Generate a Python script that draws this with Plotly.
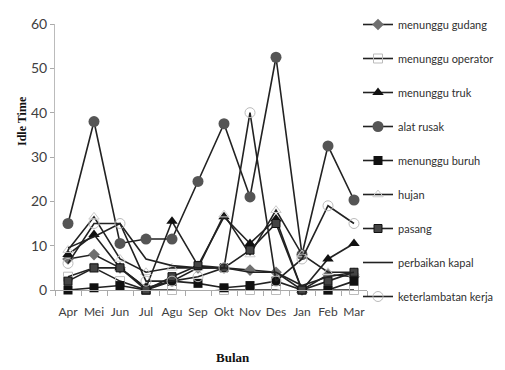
import plotly.graph_objects as go

bulan = ["Apr", "Mei", "Jun", "Jul", "Agu", "Sep", "Okt", "Nov", "Des", "Jan", "Feb", "Mar"]

menunggu_gudang = [7, 8, 5, 0.5, 2, 5, 5, 4.5, 4, 0, 3.5, 3]
menunggu_operator = [3, 5, 2, 0, 0, -0.5, 0, 0, 0, -1, 0, 0]
menunggu_truk = [8, 12.5, 5, 0.5, 15.5, 5.5, 16.5, 10.5, 16, 0, 7, 10.5]
alat_rusak = [15, 38, 10.5, 11.5, 11.5, 24.5, 37.5, 21, 52.5, 8, 32.5, 20.3]
menunggu_buruh = [0, 0.5, 1, 0, 2, 1.5, 0.5, 1, 2, 0, 0, 2]
hujan = [9, 16.5, 7, 4, 5, 5, 17, 8, 18, 8, 4, 4]
pasang = [2, 5, 5, 0, 3, 5.5, 5, 9, 15, 0, 2, 4]
perbaikan_kapal = [9.5, 12, 15, 7, 5.5, 5, 5, 4, 4, 1, 3, 4]
keterlambatan_kerja = [6, 15, 15, 2, 2, 3, 5, 40, 2, 7, 19, 15]

series = [
    ("menunggu gudang", menunggu_gudang, dict(symbol="diamond", size=9, color="#707070")),
    ("menunggu operator", menunggu_operator, dict(symbol="square-open", size=9, color="#bbbbbb")),
    ("menunggu truk", menunggu_truk, dict(symbol="triangle-up", size=10, color="#111111")),
    ("alat rusak", alat_rusak, dict(symbol="circle", size=11, color="#555555")),
    ("menunggu buruh", menunggu_buruh, dict(symbol="square", size=9, color="#111111")),
    ("hujan", hujan, dict(symbol="triangle-up-open", size=9, color="#cccccc")),
    ("pasang", pasang, dict(symbol="square", size=8, color="#444444", line=dict(color="#111111", width=1))),
    ("perbaikan kapal", perbaikan_kapal, dict(symbol="line-ew", size=8, color="#222222")),
    ("keterlambatan kerja", keterlambatan_kerja, dict(symbol="circle-open", size=10, color="#bbbbbb")),
]

fig = go.Figure()
for i, (name, vals, mk) in enumerate(series):
    fig.add_trace(go.Scatter(
        x=bulan, y=vals, name=name, mode="lines+markers",
        line=dict(color="#222222", width=1.6),
        marker=mk, cliponaxis=False, legendgroup=f"g{i}",
    ))

L, R, T, B = 47, 146, 16, 88
pw = 505 - L - R
ph = 370 - T - B

fig.update_layout(
    width=505, height=370,
    margin=dict(l=L, r=R, t=T, b=B, autoexpand=False),
    paper_bgcolor="white", plot_bgcolor="white",
    font=dict(family="Lato, Roboto, sans-serif", color="#404040", size=12),
    showlegend=True,
    legend=dict(x=(350 - L) / pw, y=(ph + 14) / ph, xanchor="left", yanchor="top",
                font=dict(size=11, color="#303030"),
                tracegroupgap=15, itemwidth=30, traceorder="grouped",
                maxheight=400,
                bgcolor="rgba(0,0,0,0)"),
    xaxis=dict(range=[-0.5, 11.5], showline=True, linecolor="#aaaaaa", ticks="outside",
               tickcolor="#aaaaaa", ticklen=5, tickson="boundaries", showgrid=False, tickangle=0,
               ticklabelstandoff=11,
               tickfont=dict(size=12, color="#404040")),
    yaxis=dict(range=[0, 60], dtick=10, showline=True, linecolor="#bbbbbb", ticks="outside",
               tickcolor="#aaaaaa", ticklen=4, showgrid=False, zeroline=False,
               tickfont=dict(size=14, color="#404040")),
    annotations=[
        dict(text="<b>Idle Time</b>", x=(14 - L) / pw, y=(282 - 113) / ph, xref="paper", yref="paper",
             xanchor="center", yanchor="middle",
             showarrow=False, textangle=-90,
             font=dict(family="Liberation Serif, DejaVu Serif", size=12, color="#111111")),
        dict(text="<b>Bulan</b>", x=(225 - L) / pw, y=(282 - 349) / ph, xref="paper", yref="paper",
             xanchor="center", yanchor="middle",
             showarrow=False,
             font=dict(family="Liberation Serif, DejaVu Serif", size=13, color="#111111")),
    ],
)

fig.write_html("out.html")
